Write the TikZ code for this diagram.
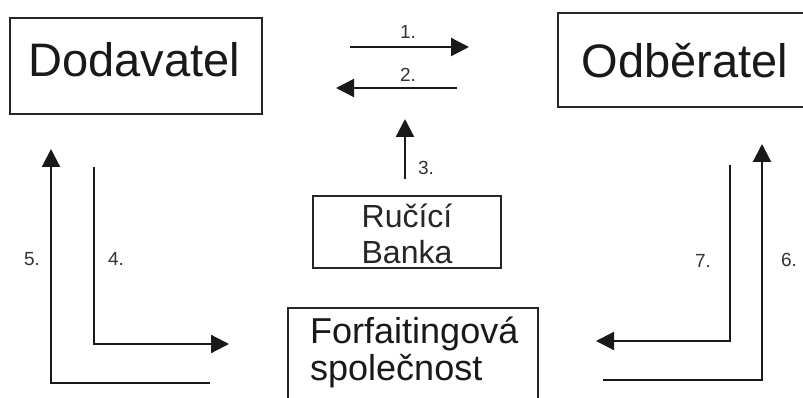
\documentclass[tikz,border=0pt]{standalone}
\usepackage{fontspec}
\setmainfont{Liberation Sans}
\usetikzlibrary{arrows.meta}
\begin{document}
\begin{tikzpicture}[x=1pt,y=-1pt,
  box/.style={draw=black!85, line width=1.8pt, inner sep=0pt, outer sep=0pt},
  flow/.style={draw=black!90, line width=2.2pt, -{Triangle[length=18pt,width=18pt]}},
  bigtext/.style={font=\fontsize{47}{56}\selectfont, anchor=base, inner sep=0pt, text=black!90},
  midtext/.style={font=\fontsize{32}{36}\selectfont, anchor=base, inner sep=0pt, text=black!85},
  fortext/.style={font=\fontsize{36}{37}\selectfont, anchor=base west, inner sep=0pt, text=black!90},
  lbl/.style={font=\fontsize{19}{22}\selectfont, inner sep=0pt, text=black!80}]
\clip (0,0) rectangle (803,398);
\fill[white] (0,0) rectangle (803,398);

% boxes
\node[box, minimum width=252pt, minimum height=96pt] (dod) at (136,66) {};
\node[bigtext] (dodt) at (134,77) {Dodavatel};
\node[box, minimum width=260pt, minimum height=94pt] (odb) at (688,60) {};
\node[bigtext] (odbt) at (685,78) {Odběratel};
\node[box, minimum width=188pt, minimum height=72pt] (ban) at (407,232) {};
\node[midtext] (bant1) at (407,227) {Ručící};
\node[midtext] (bant2) at (407,263) {Banka};
\node[box, minimum width=250pt, minimum height=110pt] (for) at (413,363) {};
\node[fortext] (fort1) at (310,343) {Forfaitingová};
\node[fortext] (fort2) at (310,380) {společnost};

% arrow end points
\coordinate (a1s) at (350,47);  \coordinate (a1e) at (469,47);
\coordinate (a2s) at (457,88);  \coordinate (a2e) at (336,88);
\coordinate (a3s) at (405,179); \coordinate (a3e) at (405,119);
\coordinate (a4s) at (94,167);  \coordinate (a4e) at (229,344);
\coordinate (a5s) at (210,383); \coordinate (a5e) at (51,149);
\coordinate (a6s) at (603,380); \coordinate (a6e) at (762,144);
\coordinate (a7s) at (730,165); \coordinate (a7e) at (596,341);

\draw[flow] (a1s) -- (a1e);
\draw[flow] (a2s) -- (a2e);
\draw[flow] (a3s) -- (a3e);
\draw[flow] (a4s) |- (a4e);
\draw[flow] (a5s) -| (a5e);
\draw[flow] (a6s) -| (a6e);
\draw[flow] (a7s) |- (a7e);

% labels
\node[lbl] (l1) at (408,32) {1.};
\node[lbl] (l2) at (408,75) {2.};
\node[lbl] (l3) at (426,168) {3.};
\node[lbl] (l4) at (116,259) {4.};
\node[lbl] (l5) at (32,259) {5.};
\node[lbl] (l6) at (789,260) {6.};
\node[lbl] (l7) at (703,261) {7.};
\end{tikzpicture}
\end{document}
